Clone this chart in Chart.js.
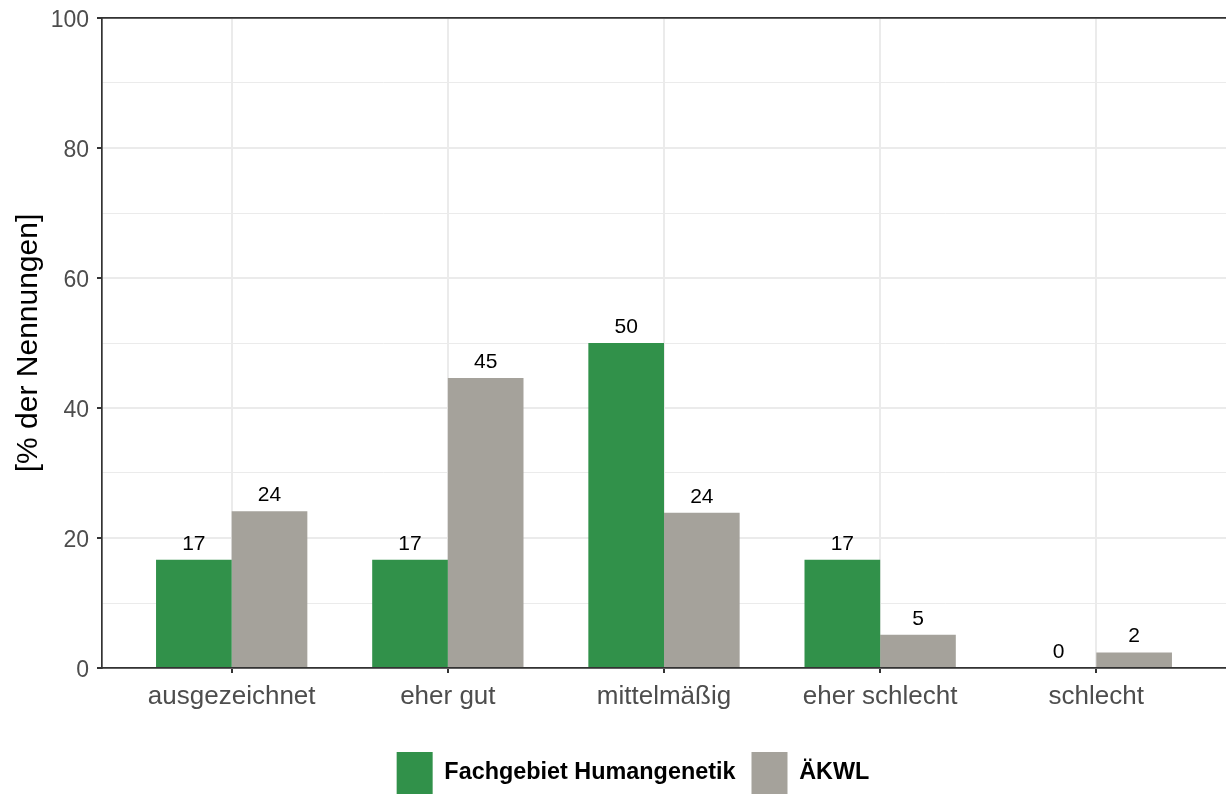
<!DOCTYPE html>
<html>
<head>
<meta charset="utf-8">
<script src="https://cdn.jsdelivr.net/npm/chart.js@4"></script>
<style>
  html, body { margin: 0; padding: 0; background: #ffffff; }
  #wrap { width: 1226px; height: 794px; }
</style>
</head>
<body>
<div id="wrap"><canvas id="c" width="1226" height="794"></canvas></div>
<script>
const categories = ['ausgezeichnet', 'eher gut', 'mittelmäßig', 'eher schlecht', 'schlecht'];
const seriesNames = ['Fachgebiet Humangenetik', 'ÄKWL'];
const fachgebiet = [16.67, 16.67, 50, 16.67, 0];
const aekwl = [24.1, 44.6, 23.9, 5.1, 2.4];
const yTicks = [0, 20, 40, 60, 80, 100];
const positions = [1, 2, 3, 4, 5];

const GREEN = '#31914A';
const GREY = '#A5A29B';
const AXIS = '#333333';
const GRID = '#EBEBEB';
const FONT = "'Liberation Sans', Arial, sans-serif";
Chart.defaults.font.family = FONT;

const toPoints = arr => arr.map((v, i) => ({ x: positions[i], y: v }));

const valueLabels = {
  id: 'valueLabels',
  afterDatasetsDraw(chart) {
    const ctx = chart.ctx;
    ctx.save();
    ctx.font = '21px ' + FONT;
    ctx.fillStyle = '#000000';
    ctx.textAlign = 'center';
    ctx.textBaseline = 'alphabetic';
    chart.data.datasets.forEach((ds, di) => {
      const meta = chart.getDatasetMeta(di);
      meta.data.forEach((el, i) => {
        const v = ds.data[i].y;
        ctx.fillText(String(Math.round(v)), el.x, el.y - 10);
      });
    });
    ctx.restore();
  }
};

new Chart(document.getElementById('c'), {
  type: 'bar',
  data: {
    datasets: [
      { label: seriesNames[0], data: toPoints(fachgebiet), backgroundColor: GREEN, borderWidth: 0 },
      { label: seriesNames[1], data: toPoints(aekwl), backgroundColor: GREY, borderWidth: 0 }
    ]
  },
  options: {
    responsive: false,
    animation: false,
    categoryPercentage: 0.7,
    barPercentage: 1.0,
    layout: { padding: { left: 40, right: 0, top: 18, bottom: -10 } },
    plugins: {
      tooltip: { enabled: false },
      legend: {
        position: 'bottom',
        labels: {
          boxWidth: 36,
          boxHeight: 42,
          padding: 16,
          color: '#000000',
          font: { size: 23.4, weight: 'bold', family: FONT }
        }
      }
    },
    scales: {
      x: {
        type: 'linear',
        position: 'bottom',
        offset: false,
        min: 0.4,
        max: 5.6,
        afterBuildTicks: s => { s.ticks = positions.map(v => ({ value: v })); },
        afterFit: s => { s.height = 68; s.paddingLeft = 0; s.paddingRight = 0; },
        ticks: {
          callback: v => categories[v - 1] || '',
          color: '#4D4D4D',
          font: { size: 26, family: FONT },
          padding: 8,
          maxRotation: 0,
          autoSkip: false
        },
        grid: { offset: false, color: GRID, lineWidth: 2, tickLength: 5, tickColor: AXIS, tickWidth: 2 },
        border: { display: true, color: AXIS, width: 1.7 }
      },
      xTop: {
        type: 'linear',
        position: 'top',
        offset: false,
        min: 0.4,
        max: 5.6,
        afterFit: s => { s.height = 0; s.paddingLeft = 0; s.paddingRight = 0; },
        ticks: { display: false },
        grid: { display: false, drawTicks: false },
        border: { display: true, color: AXIS, width: 1.7 }
      },
      y: {
        min: 0,
        max: 100,
        afterBuildTicks: s => {
          const t = [];
          for (let v = 0; v <= 100; v += 10) t.push({ value: v });
          s.ticks = t;
        },
        afterFit: s => { s.width = 62; s.paddingTop = 0; s.paddingBottom = 0; },
        ticks: {
          callback: v => (yTicks.includes(v) ? String(v) : ''),
          color: '#4D4D4D',
          font: { size: 23, family: FONT },
          padding: 8,
          labelOffset: 3
        },
        grid: {
          color: GRID,
          lineWidth: c => (yTicks.includes(c.tick.value) ? 2 : 1),
          tickLength: 5,
          tickColor: c => (yTicks.includes(c.tick.value) ? AXIS : 'rgba(0,0,0,0)'),
          tickWidth: 2
        },
        border: { display: true, color: AXIS, width: 1.7 },
        title: {
          display: true,
          text: '[% der Nennungen]',
          color: '#000000',
          font: { size: 30, family: FONT },
          padding: { top: -29.5, bottom: 0 }
        }
      }
    }
  },
  plugins: [valueLabels]
});
</script>
</body>
</html>
